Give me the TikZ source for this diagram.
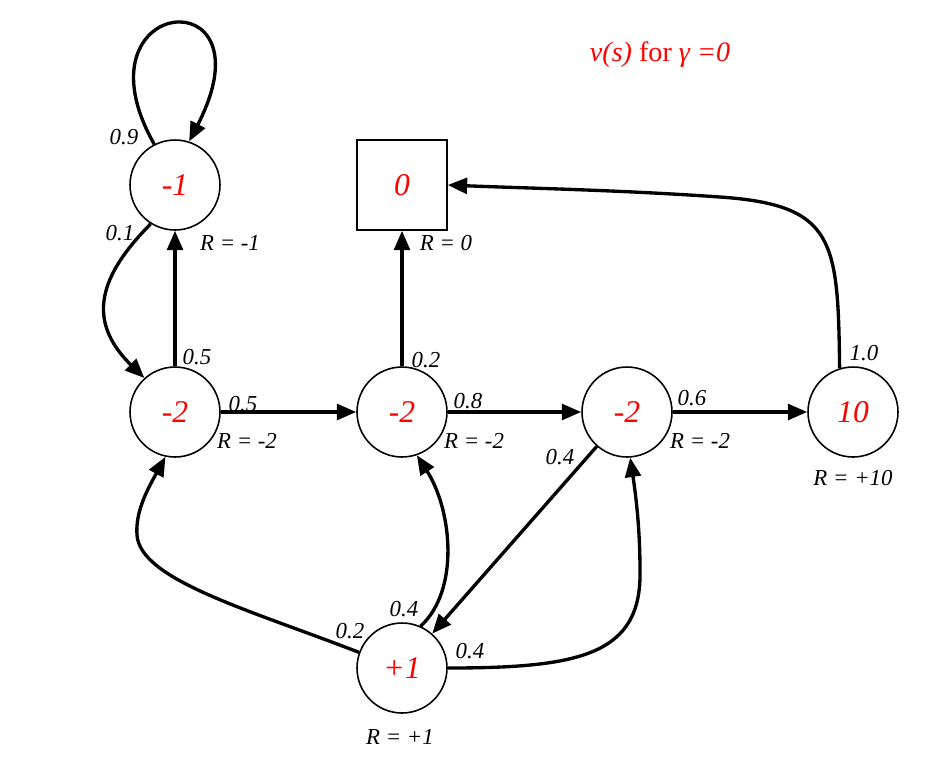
\documentclass[tikz,border=0pt]{standalone}
\usepackage{fontspec}
\setmainfont{Liberation Serif}
\usetikzlibrary{positioning, arrows.meta}

\begin{document}
\begin{tikzpicture}[x=0.02cm, y=-0.02cm,
		state/.style={draw, circle, minimum size=1.8cm, inner sep=0pt, line width=0.9pt,
			text=red, font=\fontsize{18}{20}\selectfont\itshape},
		term/.style={draw, rectangle, minimum size=1.8cm, inner sep=0pt, line width=0.9pt,
			text=red, font=\fontsize{18}{20}\selectfont\itshape},
		prob/.style={font=\fontsize{13}{15}\selectfont\itshape, inner sep=1pt},
		arrow/.style={-{Triangle[length=11pt, width=9pt]}, line width=1.9pt},
		]
		\useasboundingbox (0,0) rectangle (949,765);
		
		\node[state] (m1)  at (175,185) {-1};
		\node[term]  (sq)  at (402,185) {0};
		\node[state] (m2a) at (175,412) {-2};
		\node[state] (m2b) at (402,412) {-2};
		\node[state] (m2c) at (627,412) {-2};
		\node[state] (ten) at (853,412) {10};
		\node[state] (p1)  at (402,668) {+1};
		
		\node[text=red, font=\fontsize{16}{18}\selectfont] (title) at (660,55)
			{\textit{v(s)} for \textit{γ =0}};
		
		% rewards
		\node[prob] (rm1)  at (230,243) {R = -1};
		\node[prob] (rsq)  at (446,243) {R = 0};
		\node[prob] (rm2a) at (247,441) {R = -2};
		\node[prob] (rm2b) at (474,441) {R = -2};
		\node[prob] (rm2c) at (700,441) {R = -2};
		\node[prob] (rten) at (853,478) {R = +10};
		\node[prob] (rp1)  at (400,737) {R = +1};
		
		% transition probabilities
		\node[prob] (q1)  at (124,137) {0.9};
		\node[prob] (q2)  at (120,233) {0.1};
		\node[prob] (q3)  at (197,357) {0.5};
		\node[prob] (q4)  at (243,404) {0.5};
		\node[prob] (q5)  at (426,360) {0.2};
		\node[prob] (q6)  at (468,401) {0.8};
		\node[prob] (q7)  at (692,398) {0.6};
		\node[prob] (q8)  at (560,457) {0.4};
		\node[prob] (q9)  at (864,353) {1.0};
		\node[prob] (q10) at (404,609) {0.4};
		\node[prob] (q11) at (350,631) {0.2};
		\node[prob] (q12) at (470,651) {0.4};
		
		\draw[arrow] (m1.117) .. controls (70,-5) and (275,-25) .. (m1.72);
		\draw[arrow] (m1.-122) .. controls (100,275) and (85,320) .. (m2a.132);
		\draw[arrow] (m2a) -- (m1);
		\draw[arrow] (m2a) -- (m2b);
		\draw[arrow] (m2b) -- (sq);
		\draw[arrow] (m2b) -- (m2c);
		\draw[arrow] (m2c) -- (ten);
		\draw[arrow] (ten.107) .. controls (838,240) and (835,205) .. (720,197)
			.. controls (620,190) and (520,188) .. (sq.east);
		\draw[arrow] (m2c) -- (p1);
		\draw[arrow] (p1.160) .. controls (250,610) and (140,580) .. (137,535)
			.. controls (135,510) and (150,485) .. (m2a.-102);
		\draw[arrow] (p1.66) .. controls (460,590) and (452,510) .. (m2b.-71);
		\draw[arrow] (p1.east) .. controls (580,668) and (642,655) .. (640,570)
			.. controls (640,525) and (635,490) .. (m2c.-86);
		
	\end{tikzpicture}
\end{document}
